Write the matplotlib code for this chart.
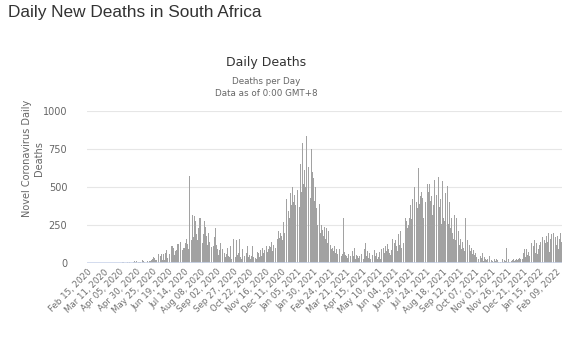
import matplotlib
matplotlib.use("Agg")
import matplotlib.pyplot as plt
import pandas as pd
import numpy as np

# daily deaths, one value per day starting 2020-02-15 (rows of 25 days)
start_date = "2020-02-15"
daily_deaths = [
    0, 0, 0, 0, 0, 0, 0, 0, 0, 0, 0, 0, 0, 0, 0, 0, 0, 0, 0, 0, 0, 0, 0, 0, 0,
    0, 0, 0, 0, 0, 0, 0, 0, 0, 0, 0, 0, 0, 0, 0, 0, 1, 0, 1, 2, 0, 1, 4, 2, 5,
    2, 0, 5, 1, 7, 2, 6, 0, 2, 3, 6, 7, 6, 2, 0, 7, 6, 2, 4, 8, 0, 7, 5, 12, 7,
    4, 15, 10, 7, 9, 6, 8, 8, 16, 0, 18, 7, 16, 5, 15, 2, 10, 11, 12, 9, 6, 12, 8, 14, 22,
    52, 27, 40, 31, 31, 18, 26, 19, 40, 27, 61, 26, 22, 50, 59, 57, 19, 82, 58, 23, 28, 64, 86, 16, 37,
    59, 72, 63, 41, 80, 110, 63, 111, 99, 55, 53, 78, 108, 89, 123, 72, 124, 128, 90, 138, 140, 113, 84, 189, 97,
    98, 170, 135, 160, 80, 127, 94, 160, 572, 124, 220, 155, 123, 315, 175, 200, 310, 280, 145, 192, 155, 410, 230, 300, 190,
    300, 286, 230, 130, 295, 190, 280, 140, 240, 180, 130, 120, 200, 110, 140, 250, 170, 105, 95, 150, 110, 75, 170, 230, 140,
    120, 95, 110, 55, 85, 100, 130, 60, 45, 90, 80, 110, 70, 125, 40, 60, 85, 100, 45, 65, 40, 110, 60, 30, 70,
    50, 160, 70, 95, 40, 130, 150, 55, 80, 70, 160, 100, 40, 30, 120, 90, 165, 60, 45, 35, 90, 70, 80, 110, 40,
    60, 55, 25, 80, 45, 110, 70, 40, 60, 100, 35, 50, 30, 75, 95, 65, 40, 110, 85, 50, 120, 100, 70, 60, 85,
    95, 40, 110, 130, 75, 90, 60, 115, 105, 70, 140, 80, 65, 120, 150, 90, 100, 185, 130, 160, 120, 210, 165, 140, 200,
    180, 230, 150, 270, 250, 200, 280, 330, 420, 270, 250, 340, 410, 300, 460, 330, 380, 500, 490, 400, 450, 520, 380, 410, 610,
    480, 420, 560, 370, 600, 650, 470, 560, 790, 520, 430, 610, 500, 560, 839, 540, 600, 630, 420, 480, 430, 560, 750, 600, 450,
    560, 410, 380, 500, 360, 420, 250, 300, 340, 390, 280, 200, 250, 310, 220, 180, 270, 240, 160, 200, 230, 130, 180, 210, 150,
    140, 120, 170, 90, 100, 160, 80, 110, 130, 70, 95, 120, 60, 150, 50, 90, 110, 70, 45, 80, 60, 300, 40, 75, 55,
    70, 50, 35, 160, 60, 40, 120, 45, 30, 60, 80, 25, 50, 100, 40, 30, 55, 70, 45, 35, 65, 50, 80, 40, 60,
    55, 70, 30, 45, 90, 130, 25, 50, 80, 40, 35, 65, 75, 30, 45, 100, 55, 40, 60, 85, 35, 50, 70, 45, 30,
    40, 60, 75, 30, 55, 90, 45, 65, 100, 35, 70, 110, 50, 80, 125, 60, 95, 70, 165, 55, 85, 120, 160, 75, 100,
    130, 90, 150, 110, 170, 80, 190, 140, 120, 210, 160, 100, 250, 190, 130, 330, 220, 300, 180, 280, 230, 360, 250, 300, 410,
    380, 290, 450, 420, 310, 350, 500, 330, 420, 400, 550, 360, 625, 500, 390, 440, 580, 470, 430, 530, 300, 460, 520, 400, 560,
    430, 520, 380, 470, 520, 350, 410, 440, 560, 320, 380, 480, 545, 290, 400, 450, 350, 420, 565, 300, 370, 420, 330, 260, 540,
    380, 300, 280, 330, 460, 250, 290, 510, 220, 260, 400, 180, 230, 300, 410, 200, 160, 250, 320, 150, 190, 300, 170, 130, 210,
    300, 120, 160, 200, 90, 140, 180, 100, 80, 130, 300, 70, 110, 150, 60, 90, 120, 45, 80, 100, 40, 60, 85, 35, 55,
    70, 110, 40, 50, 85, 30, 25, 60, 45, 20, 35, 70, 30, 15, 40, 55, 25, 20, 45, 30, 15, 35, 50, 20, 25,
    20, 35, 15, 10, 30, 25, 12, 8, 30, 20, 15, 10, 25, 18, 9, 22, 14, 30, 12, 8, 20, 28, 15, 100, 20,
    10, 25, 15, 8, 30, 20, 12, 35, 18, 25, 40, 15, 22, 45, 30, 20, 55, 28, 35, 60, 25, 40, 80, 30, 50,
    70, 95, 60, 40, 90, 110, 55, 75, 120, 45, 85, 65, 135, 90, 50, 110, 80, 150, 70, 100, 130, 60, 165, 95, 120,
    85, 140, 110, 60, 170, 120, 90, 155, 75, 130, 180, 100, 140, 200, 110, 75, 160, 125, 190, 100, 145, 200, 260, 150, 170,
    240, 120, 180, 250, 90, 160, 230, 200, 140, 180,
]
tick_every = 25
y_ticks = [0, 250, 500, 750, 1000]

dates = pd.date_range(start_date, periods=len(daily_deaths), freq="D")
x = np.arange(len(daily_deaths))

fig = plt.figure(figsize=(5.67, 3.44), dpi=100)
ax = fig.add_axes([0.153, 0.235, 0.838, 0.442])

ax.bar(x, daily_deaths, width=0.85, color="#a2a2a2", linewidth=0)

ax.set_xlim(-1, len(daily_deaths) - 1)
ax.set_ylim(0, 1000)
ax.set_yticks(y_ticks)
ax.set_yticklabels([str(v) for v in y_ticks])
ax.grid(axis="y", color="#e6e6e6", linewidth=0.8)
ax.set_axisbelow(True)
ax.axhline(0, color="#ccd6eb", linewidth=1.2)
for s in ax.spines.values():
    s.set_visible(False)

tick_pos = x[::tick_every]
ax.set_xticks(tick_pos)
ax.set_xticklabels([d.strftime("%b %d, %Y") for d in dates[::tick_every]],
                   rotation=45, ha="right", rotation_mode="anchor",
                   fontsize=6.2, color="#707070")
ax.tick_params(axis="x", length=0, pad=3)
ax.tick_params(axis="y", length=0, labelsize=7, labelcolor="#666666", pad=14)

fig.text(0.058, 0.54, "Novel Coronavirus Daily\nDeaths", rotation=90,
         ha="center", va="center", fontsize=7, color="#666666", linespacing=1.3)

fig.text(0.014, 0.985, "Daily New Deaths in South Africa", ha="left", va="top",
         fontsize=12.4, family="Liberation Sans", color="#333333")
fig.text(0.469, 0.817, "Daily Deaths", ha="center", va="center",
         fontsize=9, color="#333333")
fig.text(0.469, 0.762, "Deaths per Day", ha="center", va="center",
         fontsize=6.3, color="#666666")
fig.text(0.469, 0.727, "Data as of 0:00 GMT+8", ha="center", va="center",
         fontsize=6.3, color="#666666")

fig.savefig("out.png", dpi=100, facecolor="white")
